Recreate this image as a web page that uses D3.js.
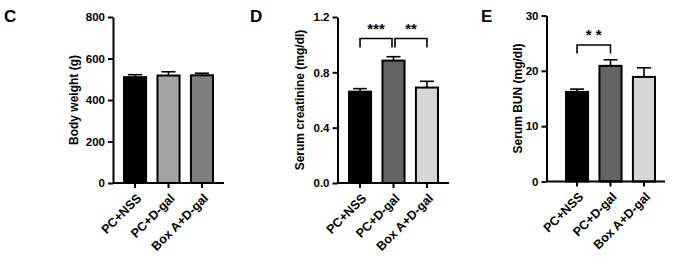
<!DOCTYPE html>
<html>
<head>
<meta charset="utf-8">
<script src="https://cdn.jsdelivr.net/npm/d3@7"></script>
<style>
  body { margin: 0; background: #fff; }
  svg text { font-family: "Liberation Sans", Arial, sans-serif; font-weight: bold; }
</style>
</head>
<body>
<div id="chart"></div>
<script>
// Data ////////////////////////////////////////////////////////////////////
const groups = ['PC+NSS', 'PC+D-gal', 'Box A+D-gal'];

const bodyWeight = [510, 518, 519];
const bodyWeightErr = [12, 18, 10];
const bodyWeightTicks = [0, 200, 400, 600, 800];

const creatinine = [0.66, 0.885, 0.69];
const creatinineErr = [0.022, 0.028, 0.045];
const creatinineTicks = [0.0, 0.4, 0.8, 1.2];

const bun = [16.2, 20.9, 18.9];
const bunErr = [0.5, 1.1, 1.65];
const bunTicks = [0, 10, 20, 30];

// Panel setup /////////////////////////////////////////////////////////////
const panels = [
  {
    letter: 'C', letterX: 4, title: 'Body weight (g)', titleX: 78,
    values: bodyWeight, errors: bodyWeightErr, ticks: bodyWeightTicks,
    fmt: d3.format('d'), yMax: 800,
    axisX: 113, axisEnd: 224, top: 17, bottom: 183, band: [124, 213],
    colors: ['#000000', '#a3a3a3', '#7f7f7f'],
    sig: []
  },
  {
    letter: 'D', letterX: 250, title: 'Serum creatinine (mg/dl)', titleX: 304,
    values: creatinine, errors: creatinineErr, ticks: creatinineTicks,
    fmt: d3.format('.1f'), yMax: 1.2,
    axisX: 337.5, axisEnd: 449, top: 17, bottom: 183, band: [349, 438],
    colors: ['#000000', '#636363', '#d6d6d6'],
    sig: [
      {from: 0, to: 1, top: 38.5, drop: 9, label: '***'},
      {from: 1, to: 2, top: 38.5, drop: 9, label: '**'}
    ]
  },
  {
    letter: 'E', letterX: 481, title: 'Serum BUN (mg/dl)', titleX: 522,
    values: bun, errors: bunErr, ticks: bunTicks,
    fmt: d3.format('d'), yMax: 30,
    axisX: 546.5, axisEnd: 665, top: 15.5, bottom: 181.5, band: [566, 655],
    colors: ['#000000', '#636363', '#d6d6d6'],
    sig: [
      {from: 0, to: 1, top: 45, drop: 8.5, label: '* *'}
    ]
  }
];

const svg = d3.select('#chart').append('svg')
  .attr('width', 677)
  .attr('height', 262);

panels.forEach(p => {
  const g = svg.append('g');

  const y = d3.scaleLinear().domain([0, p.yMax]).range([p.bottom, p.top]);
  const x = d3.scaleBand().domain(groups).range(p.band)
    .paddingInner(0.34).paddingOuter(0);

  // panel letter
  g.append('text')
    .attr('x', p.letterX).attr('y', 22)
    .attr('font-size', 17)
    .text(p.letter);

  // bars
  g.selectAll('.bar')
    .data(p.values)
    .enter().append('rect')
    .attr('x', (d, i) => x(groups[i]))
    .attr('width', x.bandwidth())
    .attr('y', d => y(d))
    .attr('height', d => p.bottom - y(d))
    .attr('fill', (d, i) => p.colors[i])
    .attr('stroke', '#000')
    .attr('stroke-width', 2);

  // error bars (upper only)
  p.values.forEach((v, i) => {
    const cx = x(groups[i]) + x.bandwidth() / 2;
    g.append('line')
      .attr('x1', cx).attr('x2', cx)
      .attr('y1', y(v)).attr('y2', y(v + p.errors[i]))
      .attr('stroke', '#000').attr('stroke-width', 1.6);
    g.append('line')
      .attr('x1', cx - 7).attr('x2', cx + 7)
      .attr('y1', y(v + p.errors[i])).attr('y2', y(v + p.errors[i]))
      .attr('stroke', '#000').attr('stroke-width', 1.6);
  });

  // y axis
  const yAxis = g.append('g')
    .attr('transform', `translate(${p.axisX},0)`)
    .call(d3.axisLeft(y).tickValues(p.ticks).tickFormat(p.fmt).tickSize(5).tickSizeOuter(0));
  yAxis.select('.domain').attr('stroke-width', 2);
  yAxis.selectAll('.tick line').attr('stroke-width', 2);
  yAxis.selectAll('.tick text')
    .attr('font-size', 11.5)
    .attr('font-family', '"Liberation Sans", Arial, sans-serif')
    .attr('font-weight', 'bold')
    .attr('x', -8);

  // x axis
  const xAxis = g.append('g')
    .attr('transform', `translate(0,${p.bottom})`)
    .call(d3.axisBottom(x).tickSize(5).tickSizeOuter(0));
  xAxis.select('.domain').remove();
  xAxis.append('line')
    .attr('x1', p.axisX).attr('x2', p.axisEnd)
    .attr('stroke', '#000').attr('stroke-width', 2);
  xAxis.selectAll('.tick line').attr('stroke-width', 2);
  xAxis.selectAll('.tick text')
    .attr('font-size', 12.5)
    .attr('font-family', '"Liberation Sans", Arial, sans-serif')
    .attr('font-weight', 'bold')
    .attr('text-anchor', 'end')
    .attr('dy', 0)
    .attr('y', 0)
    .attr('transform', 'translate(7,16) rotate(-45)');

  // y axis title
  g.append('text')
    .attr('transform', `translate(${p.titleX},${(p.top + p.bottom) / 2}) rotate(-90)`)
    .attr('text-anchor', 'middle')
    .attr('font-size', 12)
    .text(p.title);

  // significance brackets
  p.sig.forEach(s => {
    const x1 = x(groups[s.from]) + x.bandwidth() / 2;
    const x2 = x(groups[s.to]) + x.bandwidth() / 2;
    const gap = s.from === 1 ? 1.5 : 0;
    const xa = x1 + gap, xb = s.to === 1 && p.sig.length > 1 ? x2 - 1.5 : x2;
    g.append('path')
      .attr('d', `M${xa},${s.top + s.drop}V${s.top}H${xb}V${s.top + s.drop}`)
      .attr('fill', 'none')
      .attr('stroke', '#000')
      .attr('stroke-width', 1.6);
    g.append('text')
      .attr('x', (xa + xb) / 2)
      .attr('y', s.top - 5)
      .attr('text-anchor', 'middle')
      .attr('font-size', 15)
      .text(s.label);
  });
});
</script>
</body>
</html>
